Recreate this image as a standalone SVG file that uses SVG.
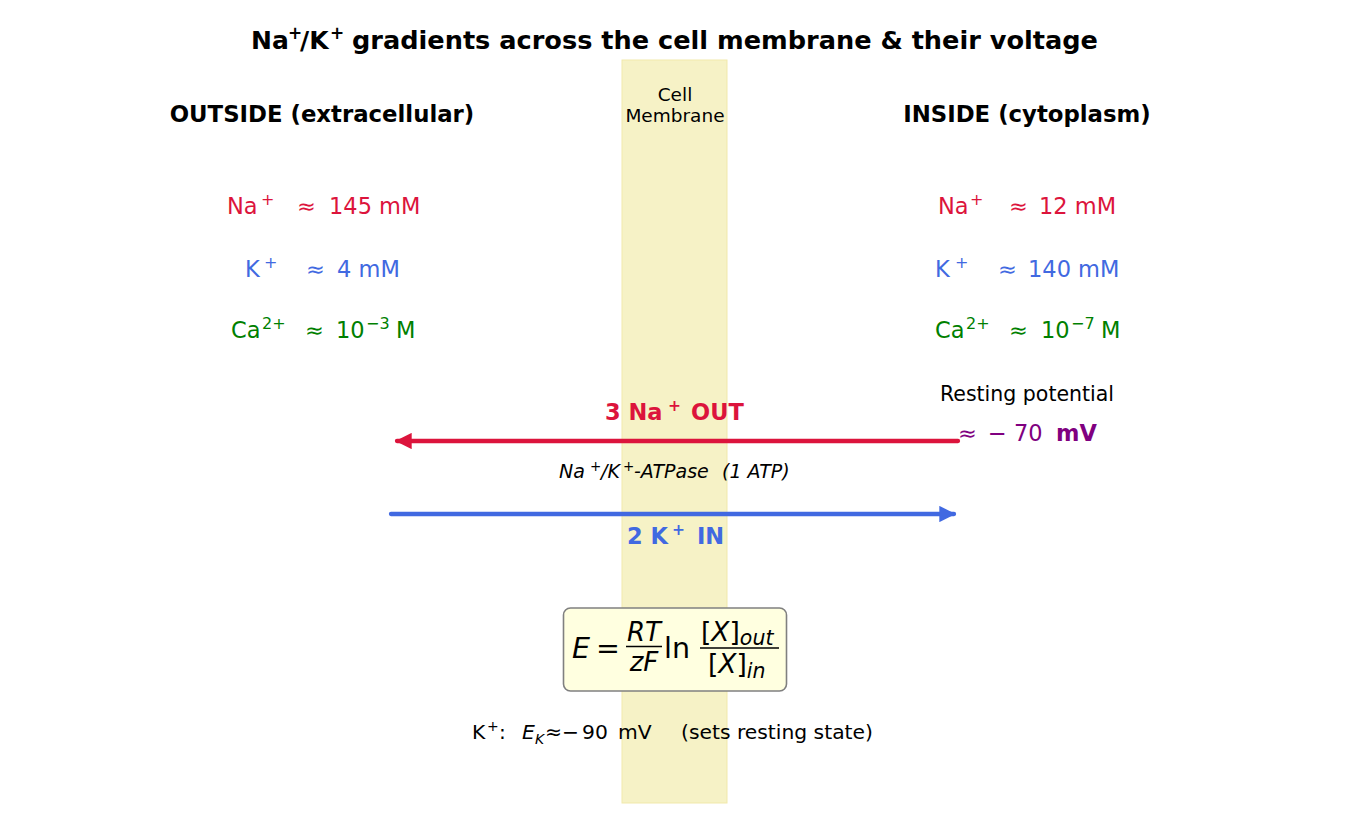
<svg xmlns="http://www.w3.org/2000/svg" width="1350" height="825" viewBox="0 0 1350 825">
<style>
text{font-family:"DejaVu Sans","Liberation Sans",sans-serif;fill:#000}
.b{font-weight:bold}
.i{font-style:italic}
.val{font-size:22.5px}
.na{fill:#DC143C}
.k{fill:#4169E1}
.ca{fill:#008000}
.pu{fill:#800080}
.sup{font-size:16px}
</style>
<defs>
<marker id="ahR" viewBox="0 0 10 10" refX="9" refY="5" markerWidth="3.8" markerHeight="3.8" orient="auto"><path d="M0,0 L10,5 L0,10 z" fill="#DC143C"/></marker>
<marker id="ahB" viewBox="0 0 10 10" refX="9" refY="5" markerWidth="3.8" markerHeight="3.8" orient="auto"><path d="M0,0 L10,5 L0,10 z" fill="#4169E1"/></marker>
</defs>
<rect width="1350" height="825" fill="#fff"/>
<g id="membrane">
<rect x="622" y="60" width="105" height="743" fill="#f6f2c6" stroke="#f1e9ab" stroke-width="1"/>
<text x="675" y="101" font-size="18.5" text-anchor="middle">Cell</text>
<text x="675" y="122" font-size="18.5" text-anchor="middle">Membrane</text>
</g>
<g id="title">
<text y="49" font-size="25" class="b"><tspan x="251">Na</tspan><tspan x="288" font-size="17" dy="-10">+</tspan><tspan x="300" dy="10">/K</tspan><tspan x="330" font-size="17" dy="-10">+</tspan><tspan x="352" dy="10" font-size="25.6">gradients across the cell membrane &amp; their voltage</tspan></text>
</g>
<g id="outside">
<text x="322" y="122" font-size="22.8" class="b" text-anchor="middle">OUTSIDE (extracellular)</text>
<text class="val na" y="214"><tspan x="227">Na</tspan><tspan x="261" class="sup" dy="-9">+</tspan><tspan x="297" dy="9">≈</tspan><tspan x="329">145 mM</tspan></text>
<text class="val k" y="277"><tspan x="245">K</tspan><tspan x="264" class="sup" dy="-9">+</tspan><tspan x="306" dy="9">≈</tspan><tspan x="337">4 mM</tspan></text>
<text class="val ca" y="338"><tspan x="231">Ca</tspan><tspan x="262" class="sup" dy="-9">2+</tspan><tspan x="305" dy="9">≈</tspan><tspan x="336">10</tspan><tspan x="366" class="sup" dy="-9">−3</tspan><tspan x="396" dy="9">M</tspan></text>
</g>
<g id="inside">
<text x="1027" y="122" font-size="22.8" class="b" text-anchor="middle">INSIDE (cytoplasm)</text>
<text class="val na" y="214"><tspan x="938">Na</tspan><tspan x="970" class="sup" dy="-9">+</tspan><tspan x="1009" dy="9">≈</tspan><tspan x="1039">12 mM</tspan></text>
<text class="val k" y="277"><tspan x="935">K</tspan><tspan x="955" class="sup" dy="-9">+</tspan><tspan x="998" dy="9">≈</tspan><tspan x="1028">140 mM</tspan></text>
<text class="val ca" y="338"><tspan x="935">Ca</tspan><tspan x="966" class="sup" dy="-9">2+</tspan><tspan x="1009" dy="9">≈</tspan><tspan x="1041">10</tspan><tspan x="1071" class="sup" dy="-9">−7</tspan><tspan x="1101" dy="9">M</tspan></text>
</g>
<g id="resting">
<text x="1027" y="401" font-size="20.5" text-anchor="middle">Resting potential</text>
<text class="val pu" y="441"><tspan x="958">≈</tspan><tspan x="988">−</tspan><tspan x="1014">70</tspan><tspan x="1056" class="b">mV</tspan></text>
</g>
<g id="connectors">
<line x1="958" y1="441" x2="397" y2="441" stroke="#DC143C" stroke-width="4.3" stroke-linecap="round" marker-end="url(#ahR)"/>
<line x1="391" y1="514" x2="954" y2="514" stroke="#4169E1" stroke-width="4.3" stroke-linecap="round" marker-end="url(#ahB)"/>
</g>
<g id="pump-labels">
<text y="420" font-size="22.5" class="b na"><tspan x="605">3 Na</tspan><tspan x="668" font-size="15.5" dy="-9">+</tspan><tspan x="691" dy="9">OUT</tspan></text>
<text y="478" font-size="19" class="i"><tspan x="559">Na</tspan><tspan x="590" font-size="13.5" dy="-7">+</tspan><tspan x="601" dy="7">/K</tspan><tspan x="623" font-size="13.5" dy="-7">+</tspan><tspan x="634" dy="7">-ATPase</tspan><tspan x="722">(1 ATP)</tspan></text>
<text y="544" font-size="22.5" class="b k"><tspan x="627">2 K</tspan><tspan x="672" font-size="15.5" dy="-9">+</tspan><tspan x="697" dy="9">IN</tspan></text>
</g>
<g id="formula">
<rect x="563.5" y="608" width="223" height="83" rx="7" fill="#ffffe0" stroke="#808080" stroke-width="1.6"/>
<text x="572" y="658" font-size="28.5" class="i">E</text>
<text x="596" y="658" font-size="28.5">=</text>
<text x="644" y="641" font-size="26" class="i" text-anchor="middle">RT</text>
<line x1="626" y1="646.5" x2="662" y2="646.5" stroke="#000" stroke-width="1.4"/>
<text x="644" y="671" font-size="26" class="i" text-anchor="middle">zF</text>
<text x="664" y="658" font-size="28.5">ln</text>
<text x="701" y="641" font-size="26.5">[<tspan class="i">X</tspan>]<tspan class="i" font-size="20.5" dy="4">out</tspan></text>
<line x1="700" y1="648" x2="779" y2="648" stroke="#000" stroke-width="1.4"/>
<text x="708" y="673" font-size="26.5">[<tspan class="i">X</tspan>]<tspan class="i" font-size="20.5" dy="5">in</tspan></text>
</g>
<g id="note">
<text y="739" font-size="20.3"><tspan x="472">K</tspan><tspan x="487" font-size="14" dy="-8">+</tspan><tspan x="499" dy="8">:</tspan><tspan x="522" class="i">E</tspan><tspan x="535" font-size="14" class="i" dy="5">K</tspan><tspan x="545" dy="-5">≈</tspan><tspan x="562">−</tspan><tspan x="582">90</tspan><tspan x="618">mV</tspan><tspan x="681">(sets resting state)</tspan></text>
</g>
</svg>
